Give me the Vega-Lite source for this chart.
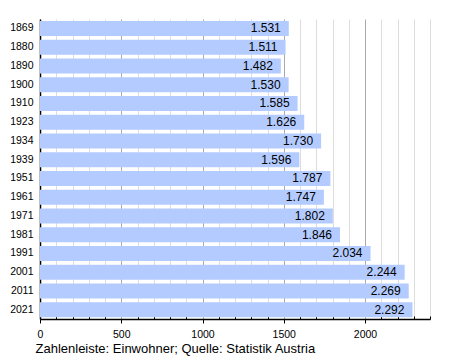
{
  "$schema": "https://vega.github.io/schema/vega-lite/v6.json",
  "width": 390,
  "height": 300,
  "autosize": "none",
  "padding": {"left": 40, "top": 19, "right": 20, "bottom": 41},
  "config": {
    "locale": {"number": {"decimal": ",", "thousands": ".", "grouping": [3], "currency": ["", " €"]}},
    "font": "Liberation Sans",
    "view": {"stroke": null}
  },
  "data": {
    "values": [
      {"year": "1869", "pop": 1531},
      {"year": "1880", "pop": 1511},
      {"year": "1890", "pop": 1482},
      {"year": "1900", "pop": 1530},
      {"year": "1910", "pop": 1585},
      {"year": "1923", "pop": 1626},
      {"year": "1934", "pop": 1730},
      {"year": "1939", "pop": 1596},
      {"year": "1951", "pop": 1787},
      {"year": "1961", "pop": 1747},
      {"year": "1971", "pop": 1802},
      {"year": "1981", "pop": 1846},
      {"year": "1991", "pop": 2034},
      {"year": "2001", "pop": 2244},
      {"year": "2011", "pop": 2269},
      {"year": "2021", "pop": 2292}
    ]
  },
  "encoding": {
    "y": {
      "field": "year", "type": "nominal", "sort": null,
      "scale": {"paddingInner": 0.2, "paddingOuter": 0.1},
      "axis": {
        "title": null, "ticks": false, "domainColor": "#000", "domainWidth": 1.5,
        "labelFontSize": 10.5, "labelColor": "#000", "labelPadding": 7, "grid": false
      }
    },
    "x": {
      "field": "pop", "type": "quantitative",
      "scale": {"domain": [0, 2400], "nice": false},
      "axis": {
        "values": [0,100,200,300,400,500,600,700,800,900,1000,1100,1200,1300,1400,1500,1600,1700,1800,1900,2000,2100,2200,2300,2400],
        "labelExpr": "datum.value % 500 === 0 ? datum.value : ''",
        "format": "d",
        "grid": true,
        "gridColor": {"condition": {"test": "datum.value % 500 === 0", "value": "#aaaaaa"}, "value": "#dddddd"},
        "gridWidth": 1,
        "tickColor": "#000",
        "tickSize": {"condition": {"test": "datum.value % 500 === 0", "value": 4}, "value": -3},
        "domainColor": "#000",
        "domainWidth": 1.5,
        "labelFontSize": 10.5,
        "labelColor": "#000",
        "labelPadding": 6,
        "labelFlush": false,
        "title": "Zahlenleiste: Einwohner; Quelle: Statistik Austria",
        "titleFontSize": 13,
        "titleFontWeight": "normal",
        "titleColor": "#000",
        "titleAnchor": "start",
        "titleBaseline": "alphabetic",
        "titleX": -5,
        "titleY": 33
      }
    }
  },
  "layer": [
    {"mark": {"type": "bar", "color": "#b3cbff"}},
    {
      "mark": {"type": "text", "align": "right", "dx": -8, "fontSize": 12, "color": "#000", "baseline": "middle"},
      "encoding": {"text": {"field": "pop", "type": "quantitative", "format": ",d"}}
    }
  ]
}
